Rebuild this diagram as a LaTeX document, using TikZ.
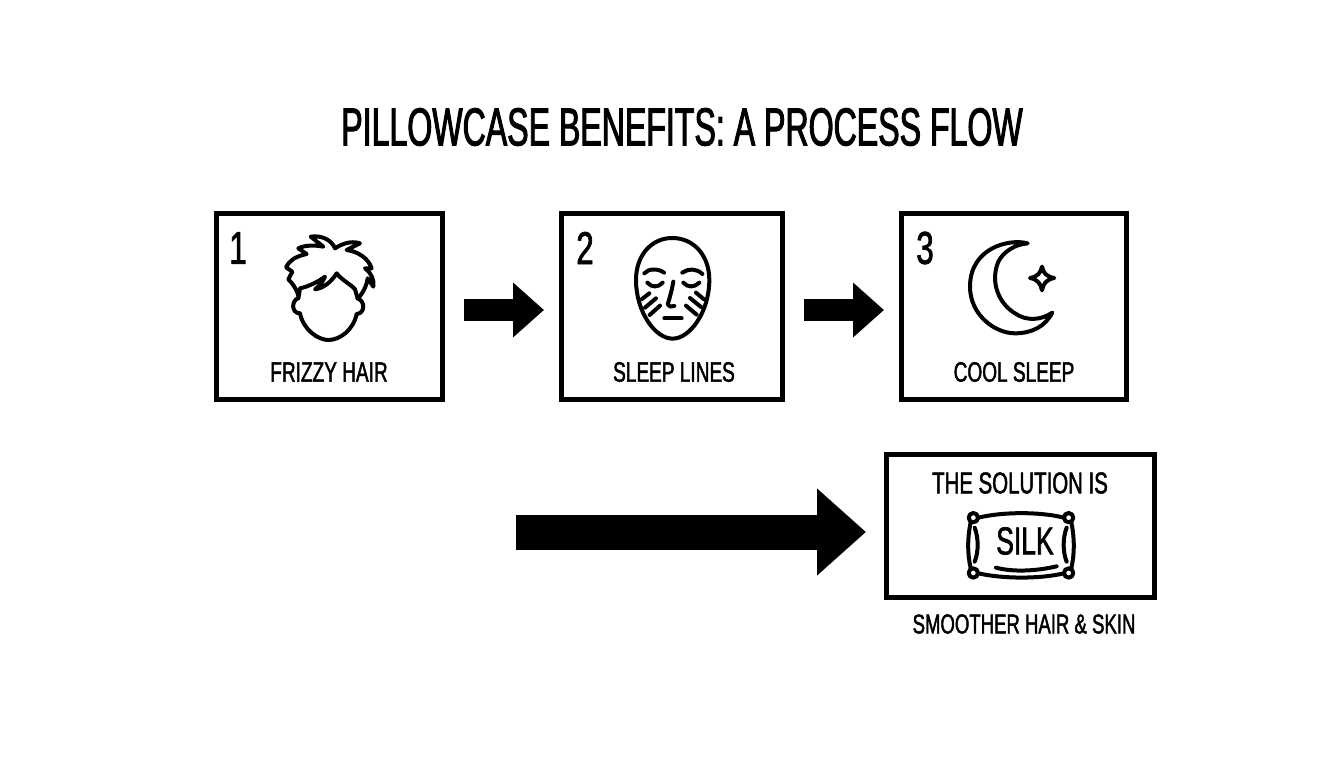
\documentclass[tikz,border=0pt]{standalone}
\usepackage{fontspec}
\setmainfont[FakeStretch=0.68, FakeBold=1.6]{Liberation Sans}
\newfontfamily\titlefont[FakeStretch=0.6, FakeBold=1.8]{Liberation Sans}
\usetikzlibrary{arrows.meta}
\tikzset{
	panel/.style={shape=rectangle, draw=black, line width=5pt, minimum height=186pt, inner sep=0pt},
	caption/.style={font=\fontsize{28}{28}\selectfont, inner sep=0pt, text=black},
	numeral/.style={font=\fontsize{46}{46}\selectfont, inner sep=0pt, text=black},
	icon/.style={line width=4pt, line cap=round, line join=round},
	blockarrow/.style={-{Triangle[length=31pt, width=53pt]}, line width=22pt, draw=black},
	zoomed/.style={x=0.3333pt, y=-0.3333pt}
}
\begin{document}
\begin{tikzpicture}[x=1pt, y=-1pt]
	\useasboundingbox (0,0) rectangle (1344,768);
	
	\draw (682,127) node[font=\titlefont\fontsize{53.5}{53.5}\selectfont, inner sep=0pt](title){PILLOWCASE BENEFITS: A PROCESS FLOW};
	
	\draw (329.5,306.5) node[panel, minimum width=226pt](hairbox){};
	\draw (672,306.5) node[panel, minimum width=221pt](linesbox){};
	\draw (1014,306.5) node[panel, minimum width=225pt](coolbox){};
	\draw (1020.5,526) node[panel, minimum width=268pt, minimum height=143pt](silkbox){};
	
	\draw (238,248) node[numeral](one){1};
	\draw (585,248) node[numeral](two){2};
	\draw (925,248) node[numeral](three){3};
	
	\draw (329,372) node[caption](hairtext){FRIZZY HAIR};
	\draw (674,372) node[caption](linestext){SLEEP LINES};
	\draw (1014,372) node[caption](cooltext){COOL SLEEP};
	\draw (1020,483) node[caption, font=\fontsize{30}{30}\selectfont](solution){THE SOLUTION IS};
	\draw (1025,541) node[caption, font=\fontsize{39}{39}\selectfont](silk){SILK};
	\draw (1024,624) node[caption, font=\fontsize{27.3}{27.3}\selectfont](result){SMOOTHER HAIR \& SKIN};
	
	\coordinate (start) at (516,532);
	\draw [blockarrow, shorten <=19pt, shorten >=15pt]([yshift=-3.5pt]hairbox.east) -- ([yshift=-3.5pt]linesbox.west);
	\draw [blockarrow, shorten <=19pt, shorten >=15pt]([yshift=-3.5pt]linesbox.east) -- ([yshift=-3.5pt]coolbox.west);
	\draw [blockarrow, line width=35pt, -{Triangle[length=49pt, width=84pt]}, shorten >=18pt](start) -- (silkbox.west |- start);
	
	% hair
	\begin{scope}[zoomed, shift={(275pt,-230pt)}, icon]
		\draw (68,205) .. controls (48,215) and (50,250) .. (75,250) .. controls (85,300) and (130,330) .. (160,330) .. controls (195,330) and (235,300) .. (245,252) .. controls (270,250) and (272,215) .. (248,205);
		\draw (70,205) -- (75,175) .. controls (100,170) and (130,155) .. (150,140) .. controls (145,155) and (130,170) .. (120,178) .. controls (145,175) and (170,155) .. (185,130) .. controls (200,150) and (230,165) .. (240,178) -- (248,205);
		\draw (70,198) .. controls (65,175) and (50,158) .. (40,148) -- (52,125) -- (33,112) .. controls (45,90) and (60,80) .. (95,72) -- (70,55) .. controls (90,45) and (120,45) .. (145,50) -- (107,20) .. controls (140,15) and (170,30) .. (180,55) .. controls (195,45) and (225,30) .. (255,40) -- (215,60) .. controls (250,65) and (280,85) .. (290,115) -- (270,115) .. controls (290,130) and (298,150) .. (295,170) -- (278,145) .. controls (275,170) and (260,195) .. (248,205);
	\end{scope}
	% face
	\begin{scope}[zoomed, shift={(555pt,-205pt)}, icon]
		\draw (352,99) .. controls (290,99) and (243,150) .. (243,225) .. controls (243,320) and (300,401) .. (353,401) .. controls (405,401) and (463,320) .. (463,225) .. controls (463,150) and (415,99) .. (352,99) -- cycle;
		\draw (268,205) .. controls (280,190) and (310,190) .. (327,203);
		\draw (382,203) .. controls (400,190) and (425,190) .. (442,207);
		\draw (277,233) .. controls (290,248) and (310,248) .. (323,233);
		\draw (385,233) .. controls (398,248) and (418,248) .. (433,233);
		\draw (355,230) .. controls (350,260) and (342,285) .. (338,298) .. controls (340,306) and (350,306) .. (358,303);
		\draw (328,340) -- (380,340);
		\draw (260,283) -- (283,265);
		\draw (270,308) -- (303,280);
		\draw (284,330) -- (315,302);
		\draw (423,263) -- (447,283);
		\draw (405,279) -- (438,306);
		\draw (393,302) -- (425,329);
	\end{scope}
	% moon and star
	\begin{scope}[zoomed, shift={(895pt,-205pt)}, icon]
		\draw (398,115) .. controls (340,100) and (225,130) .. (225,245) .. controls (225,330) and (300,385) .. (360,385) .. controls (410,385) and (450,365) .. (472,323) .. controls (440,345) and (395,350) .. (360,325) .. controls (310,295) and (285,230) .. (310,170) .. controls (325,140) and (360,118) .. (398,115) -- cycle;
		\draw (441,185) .. controls (445,205) and (455,215) .. (478,219) .. controls (455,223) and (445,235) .. (441,256) .. controls (437,235) and (427,223) .. (405,219) .. controls (427,215) and (437,205) .. (441,185) -- cycle;
	\end{scope}
	% pillow
	\begin{scope}[zoomed, shift={(880pt,-445pt)}, icon]
		\draw (295,218) .. controls (370,200) and (480,200) .. (552,218);
		\draw (295,385) .. controls (370,402) and (480,402) .. (552,385);
		\draw (280,218) circle (14);
		\draw (566,218) circle (14);
		\draw (280,384) circle (14);
		\draw (566,384) circle (14);
		\draw (272,232) .. controls (262,280) and (262,325) .. (272,370);
		\draw (284,248) .. controls (296,280) and (296,320) .. (284,350);
		\draw (574,232) .. controls (584,280) and (584,325) .. (574,370);
		\draw (560,248) .. controls (548,280) and (548,320) .. (560,350);
		\draw (348,368) .. controls (400,382) and (470,378) .. (530,364);
	\end{scope}
\end{tikzpicture}
\end{document}
